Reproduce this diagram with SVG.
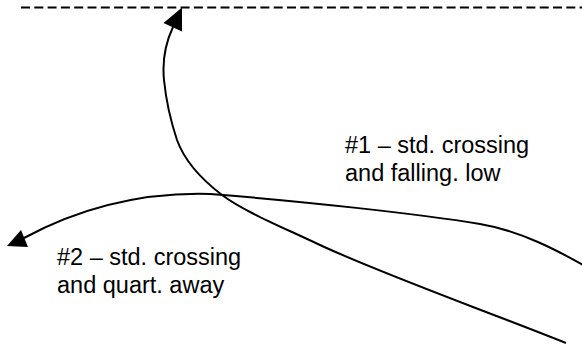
<svg xmlns="http://www.w3.org/2000/svg" width="582" height="345" viewBox="0 0 582 345">
<style>
.line{fill:none;stroke:#000;stroke-width:2}
.dash{fill:none;stroke:#000;stroke-width:2;stroke-dasharray:9,4.3}
.head{fill:#000;stroke:none}
.lbl{font-family:"Liberation Sans",Arial,sans-serif;font-size:23.5px;fill:#000}
</style>
<rect width="582" height="345" fill="#fff"/>
<g id="boundary">
<line class="dash" x1="21" y1="7.5" x2="582" y2="7.5"/>
</g>
<g id="connectors">
<g id="path1">
<path class="line" d="M566,343 C470,305 380,273 320,245 C280,226 245,212 222,195 C205,182 185,162 177,140 C171,122 166,100 164,80 C162,60 166,42 173,27"/>
<polygon class="head" points="182,7.5 163.5,23 182,31.5"/>
</g>
<g id="path2">
<path class="line" d="M24,238 C80,208 140,192 210,194 C300,201 420,214 480,224 C520,230.7 557,250 592,270"/>
<polygon class="head" points="7,246 21,230 28,247"/>
</g>
</g>
<g id="label1">
<text class="lbl" x="345" y="153">#1 – std. crossing</text>
<text class="lbl" x="345" y="181">and falling. low</text>
</g>
<g id="label2">
<text class="lbl" x="57" y="265">#2 – std. crossing</text>
<text class="lbl" x="57" y="292.5">and quart. away</text>
</g>
</svg>
